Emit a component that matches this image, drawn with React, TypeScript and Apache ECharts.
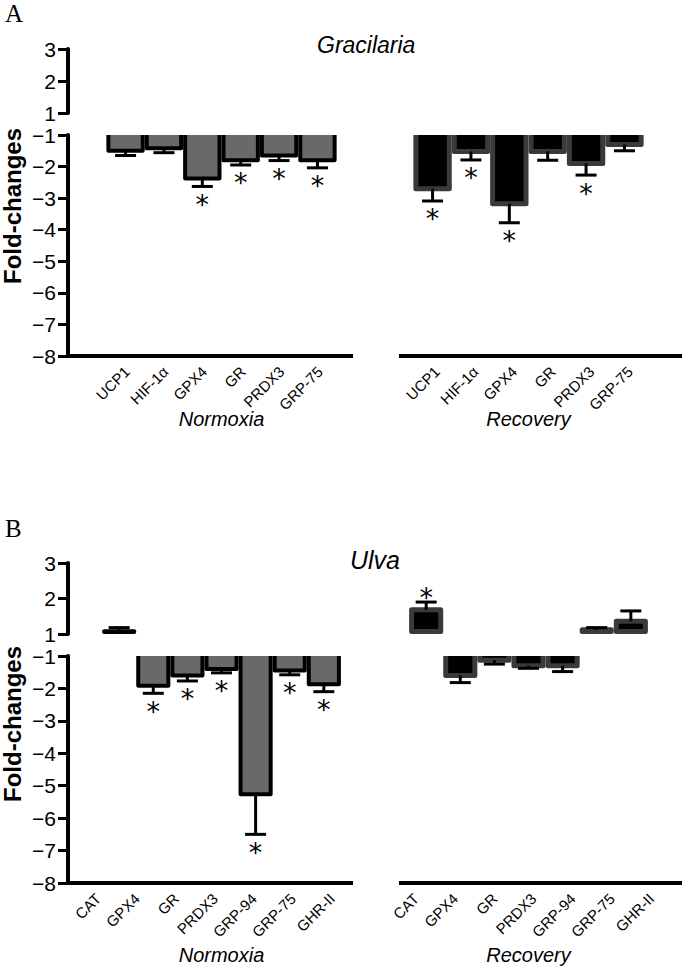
import React, { useEffect, useRef } from 'react';
import * as echarts from 'echarts';

// ---------------- data ----------------
const gracilariaGenes = ['UCP1', 'HIF-1α', 'GPX4', 'GR', 'PRDX3', 'GRP-75'];
const gracNormoxia = [-1.5, -1.42, -2.38, -1.8, -1.65, -1.8];
const gracNormoxiaErr = [-1.65, -1.56, -2.63, -1.95, -1.81, -2.04];
const gracNormoxiaSig = [false, false, true, true, true, true];
const gracRecovery = [-2.7, -1.52, -3.18, -1.52, -1.9, -1.3];
const gracRecoveryErr = [-3.09, -1.79, -3.78, -1.8, -2.27, -1.5];
const gracRecoverySig = [true, true, true, false, true, false];

const ulvaGenes = ['CAT', 'GPX4', 'GR', 'PRDX3', 'GRP-94', 'GRP-75', 'GHR-II'];
const ulvaNormoxia = [1.08, -1.92, -1.6, -1.4, -5.26, -1.45, -1.87];
const ulvaNormoxiaErr = [1.18, -2.15, -1.77, -1.52, -6.5, -1.58, -2.1];
const ulvaNormoxiaSig = [false, true, true, true, true, true, true];
const ulvaRecovery = [1.68, -1.6, -1.13, -1.3, -1.3, 1.12, 1.36];
const ulvaRecoveryErr = [1.9, -1.82, -1.25, -1.38, -1.48, 1.18, 1.65];
const ulvaRecoverySig = [true, false, false, false, false, false, false];

const groupNames = ['Normoxia', 'Recovery'];
const panelTitles = ['Gracilaria', 'Ulva'];
const panelLetters = ['A', 'B'];
const yAxisTitle = 'Fold-changes';
const upperRange = [1, 3];
const lowerRange = [-8, -1];

// ---------------- layout ----------------
const W = 684;
const H = 968;
const PLOT_LEFT = 68;
const PLOT_WIDTH = 614;
const SANS = "'Liberation Sans', Arial, sans-serif";
const SERIF = "'Liberation Serif', 'Times New Roman', serif";
const AXIS_SEGMENTS = [
  [68, 353],
  [399, 682],
];
const LABEL_MARGIN = 13;

const panels = [
  {
    genes: gracilariaGenes,
    norm: gracNormoxia, normErr: gracNormoxiaErr, normSig: gracNormoxiaSig,
    rec: gracRecovery, recErr: gracRecoveryErr, recSig: gracRecoverySig,
    upTop: 49, upBottom: 113, lowTop: 135, lowBottom: 356,
    normLabel: [107.7, 231.6], recLabel: [417.7, 231.6],
    title: panelTitles[0], titleX: 317, titleY: 45, titleSize: 23,
    letter: panelLetters[0], letterY: 13,
    groupY: 418.5, yTitleY: 206,
  },
  {
    genes: ulvaGenes,
    norm: ulvaNormoxia, normErr: ulvaNormoxiaErr, normSig: ulvaNormoxiaSig,
    rec: ulvaRecovery, recErr: ulvaRecoveryErr, recSig: ulvaRecoverySig,
    upTop: 563, upBottom: 634, lowTop: 656, lowBottom: 883,
    normLabel: [78.5, 273], recLabel: [396.4, 274.4],
    title: panelTitles[1], titleX: 350, titleY: 560, titleSize: 25,
    letter: panelLetters[1], letterY: 528.5,
    groupY: 955, yTitleY: 724,
  },
];

const minusFmt = (v: number) => (v < 0 ? '\u2212' + Math.abs(v) : String(v));

const makeRender = (base: number) => (params: any, api: any) => {
  const slot = api.value(0) as number;
  const v = api.value(1) as number;
  const e = api.value(2) as number;
  const sig = api.value(3) as number;
  const grp = api.value(4) as number;
  const band = api.size([1, 0])[0];
  const pB = api.coord([slot, base]);
  const pV = api.coord([slot, v]);
  const pE = api.coord([slot, e]);
  const cx = pB[0];
  const rec = grp === 1;
  const bw = rec ? 5 : 4;
  const fill = rec ? '#000000' : '#696969';
  const stroke = rec ? '#3a3a3a' : '#000000';
  const down = pV[1] > pB[1];
  const xl = cx - band / 2 + bw / 2;
  const xr = cx + band / 2 - bw / 2;
  const yv = pV[1];
  const children: any[] = [];
  if (down) {
    children.push({
      type: 'rect',
      shape: { x: xl, y: pB[1], width: xr - xl, height: yv - pB[1] },
      style: { fill },
    });
    children.push({
      type: 'polyline',
      shape: { points: [[xl, pB[1]], [xl, yv], [xr, yv], [xr, pB[1]]] },
      style: { stroke, lineWidth: bw, fill: null, lineJoin: 'round' },
    });
  } else {
    const yb = pB[1] - bw / 2;
    children.push({
      type: 'rect',
      shape: { x: xl, y: yv, width: xr - xl, height: yb - yv },
      style: { fill, stroke, lineWidth: bw, lineJoin: 'round' },
    });
  }
  const capW = 21;
  children.push({
    type: 'line',
    shape: { x1: cx, y1: yv, x2: cx, y2: pE[1] },
    style: { stroke: '#000', lineWidth: 3 },
  });
  children.push({
    type: 'line',
    shape: { x1: cx - capW / 2, y1: pE[1], x2: cx + capW / 2, y2: pE[1] },
    style: { stroke: '#000', lineWidth: 3 },
  });
  if (sig) {
    children.push({
      type: 'text',
      x: cx,
      y: down ? pE[1] + 18 : pE[1] - 5,
      style: {
        text: '*',
        fontSize: 27,
        fontFamily: "'DejaVu Sans', sans-serif",
        fill: '#000',
        align: 'center',
        verticalAlign: 'middle',
        textAlign: 'center',
        textVerticalAlign: 'middle',
      },
    });
  }
  return { type: 'group', children };
};

function buildOption() {
  const grid: any[] = [];
  const xAxis: any[] = [];
  const yAxis: any[] = [];
  const series: any[] = [];
  const graphic: any[] = [];

  const yAxisShown = (gridIndex: number, range: number[]) => ({
    type: 'value',
    gridIndex,
    min: range[0],
    max: range[1],
    interval: 1,
    axisLine: { show: true, lineStyle: { color: '#000', width: 4 } },
    axisTick: { show: true, length: 10, lineStyle: { color: '#000', width: 3 } },
    axisLabel: {
      color: '#000',
      fontSize: 21,
      fontFamily: SANS,
      margin: 12,
      formatter: minusFmt,
    },
    splitLine: { show: false },
  });

  panels.forEach((p) => {
    const n = p.genes.length;
    const normStart = 1;
    const recStart = n + 3;
    const slots = ['', ...p.genes, '', '', ...p.genes, ''];
    const gBase = grid.length;
    grid.push({ left: PLOT_LEFT, width: PLOT_WIDTH, top: p.upTop, height: p.upBottom - p.upTop });
    grid.push({ left: PLOT_LEFT, width: PLOT_WIDTH, top: p.lowTop, height: p.lowBottom - p.lowTop });

    xAxis.push({ type: 'category', gridIndex: gBase, data: slots, show: false });
    xAxis.push({ type: 'category', gridIndex: gBase + 1, data: slots, show: false });

    yAxis.push(yAxisShown(gBase, upperRange));
    yAxis.push(yAxisShown(gBase + 1, lowerRange));

    const up: any[] = [];
    const low: any[] = [];
    p.norm.forEach((v, i) => {
      const item = [normStart + i, v, p.normErr[i], p.normSig[i] ? 1 : 0, 0];
      (v > 0 ? up : low).push(item);
    });
    p.rec.forEach((v, i) => {
      const item = [recStart + i, v, p.recErr[i], p.recSig[i] ? 1 : 0, 1];
      (v > 0 ? up : low).push(item);
    });

    series.push({
      type: 'custom',
      xAxisIndex: gBase,
      yAxisIndex: gBase,
      renderItem: makeRender(upperRange[0]),
      encode: { x: 0, y: [1, 2] },
      data: up,
      silent: true,
    });
    series.push({
      type: 'custom',
      xAxisIndex: gBase + 1,
      yAxisIndex: gBase + 1,
      renderItem: makeRender(lowerRange[1]),
      encode: { x: 0, y: [1, 2] },
      data: low,
      silent: true,
    });

    // rotated category labels under each group
    [p.normLabel, p.recLabel].forEach((lab) => {
      const lb = lab[1] / n;
      p.genes.forEach((g, i) => {
        graphic.push({
          type: 'text',
          x: lab[0] + lb * (i + 0.5),
          y: p.lowBottom + LABEL_MARGIN,
          rotation: Math.PI / 4,
          style: {
            text: g,
            fontSize: 15,
            fontFamily: SANS,
            fill: '#000',
            align: 'right',
            verticalAlign: 'middle',
            textAlign: 'right',
            textVerticalAlign: 'middle',
          },
        });
      });
    });

    AXIS_SEGMENTS.forEach((s) => {
      graphic.push({
        type: 'line',
        shape: { x1: s[0], y1: p.lowBottom, x2: s[1], y2: p.lowBottom },
        style: { stroke: '#000', lineWidth: 4 },
      });
    });

    const band = PLOT_WIDTH / slots.length;
    const normCenter = PLOT_LEFT + band * (normStart + n / 2);
    const recCenter = PLOT_LEFT + band * (recStart + n / 2);
    [normCenter, recCenter].forEach((cx, gi) => {
      graphic.push({
        type: 'text',
        x: cx,
        y: p.groupY,
        style: {
          text: groupNames[gi],
          fontSize: 20,
          fontStyle: 'italic',
          fontFamily: SANS,
          fill: '#000',
          align: 'center',
          verticalAlign: 'middle',
          textAlign: 'center',
          textVerticalAlign: 'middle',
        },
      });
    });

    graphic.push({
      type: 'text',
      x: p.titleX,
      y: p.titleY,
      style: {
        text: p.title,
        fontSize: p.titleSize,
        fontStyle: 'italic',
        fontFamily: SANS,
        fill: '#000',
        align: 'left',
        verticalAlign: 'middle',
        textAlign: 'left',
        textVerticalAlign: 'middle',
      },
    });
    graphic.push({
      type: 'text',
      x: 5,
      y: p.letterY,
      style: {
        text: p.letter,
        fontSize: 25,
        fontFamily: SERIF,
        fill: '#000',
        align: 'left',
        verticalAlign: 'middle',
        textAlign: 'left',
        textVerticalAlign: 'middle',
      },
    });
    graphic.push({
      type: 'text',
      x: 12,
      y: p.yTitleY,
      rotation: Math.PI / 2,
      style: {
        text: yAxisTitle,
        fontSize: 24,
        lineHeight: 20,
        fontWeight: 'bold',
        fontFamily: SANS,
        fill: '#000',
        align: 'center',
        verticalAlign: 'middle',
        textAlign: 'center',
        textVerticalAlign: 'middle',
      },
    });
  });

  return {
    animation: false,
    backgroundColor: '#ffffff',
    grid,
    xAxis,
    yAxis,
    series,
    graphic,
  };
}

export default function App() {
  const ref = useRef<HTMLDivElement>(null);
  useEffect(() => {
    if (!ref.current) return;
    const chart = echarts.init(ref.current, undefined, { renderer: 'svg', width: W, height: H });
    chart.setOption(buildOption() as any);
    return () => chart.dispose();
  }, []);
  return (
    <div
      ref={ref}
      style={{ position: 'absolute', left: 0, top: 0, width: W, height: H, background: '#fff' }}
    />
  );
}
